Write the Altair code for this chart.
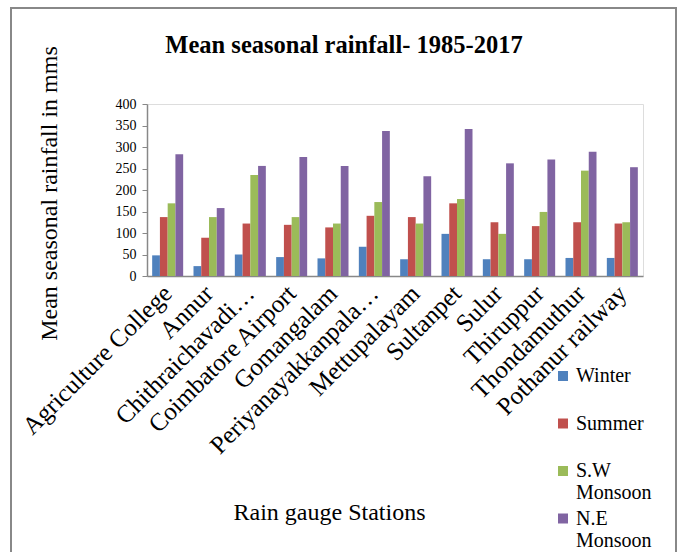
import altair as alt
import pandas as pd

stations = ["Agriculture College", "Annur", "Chithraichavadi…", "Coimbatore Airport",
            "Gomangalam", "Periyanayakkanpala…", "Mettupalayam", "Sultanpet", "Sulur",
            "Thiruppur", "Thondamuthur", "Pothanur railway"]
series = ["Winter", "Summer", "S.W Monsoon", "N.E Monsoon"]
winter = [48, 23, 50, 44, 41, 68, 39, 98, 39, 39, 42, 42]
summer = [137, 89, 122, 119, 113, 140, 137, 169, 125, 116, 125, 122]
sw_monsoon = [169, 137, 235, 137, 122, 172, 122, 179, 98, 149, 245, 125]
ne_monsoon = [283, 158, 256, 277, 256, 337, 232, 342, 262, 271, 289, 253]
colors = ["#4F81BD", "#C0504D", "#9BBB59", "#8064A2"]

rows = []
for name, vals in zip(series, [winter, summer, sw_monsoon, ne_monsoon]):
    for st, v in zip(stations, vals):
        rows.append({"Station": st, "Season": name, "Rainfall": v})
df = pd.DataFrame(rows)

FONT = "Liberation Serif"

bars = alt.Chart(df).mark_bar().encode(
    x=alt.X("Station:N", sort=stations,
            scale=alt.Scale(paddingInner=0.25, paddingOuter=0.125),
            axis=alt.Axis(title="Rain gauge Stations", labelAngle=-45, labelAlign="right",
                          labelBaseline="middle", labelPadding=13, ticks=False,
                          labelFont=FONT, labelFontSize=25, labelColor="#000",
                          labelLimit=400,
                          titleFont=FONT, titleFontSize=24, titleFontWeight="normal",
                          titleColor="#000", titleX=182, titleY=236,
                          titleBaseline="middle", titleAlign="center",
                          domainColor="#888888", domainWidth=1.5)),
    xOffset=alt.XOffset("Season:N", sort=series, scale=alt.Scale(paddingInner=0.0)),
    y=alt.Y("Rainfall:Q", scale=alt.Scale(domain=[0, 400], nice=False),
            axis=alt.Axis(title="Mean seasonal rainfall in mms",
                          values=[0, 50, 100, 150, 200, 250, 300, 350, 400],
                          grid=False, tickSize=5, tickColor="#888888",
                          domainColor="#888888", domainWidth=1.5,
                          labelFont=FONT, labelFontSize=14, labelColor="#000",
                          labelPadding=6,
                          titleFont=FONT, titleFontSize=24, titleFontWeight="normal",
                          titleColor="#000", titleAngle=270, titleX=-98, titleY=89,
                          titleBaseline="middle", titleAlign="center")),
    color=alt.Color("Season:N", sort=series,
                    scale=alt.Scale(domain=series, range=colors),
                    legend=alt.Legend(title=None, orient="none", legendX=406, legendY=262,
                                      symbolType="square", symbolSize=100,
                                      symbolStrokeWidth=0,
                                      labelFont=FONT, labelFontSize=20, labelColor="#000",
                                      labelExpr="split(datum.label, ' ')",
                                      labelBaseline="middle", gridAlign="all",
                                      rowPadding=5.5, labelOffset=3)),
)

frame = alt.Chart(pd.DataFrame({"k": [0]})).mark_rect(
    filled=False, stroke="#888888", strokeWidth=2
).encode(x=alt.value(-136), x2=alt.value(529), y=alt.value(-96), y2=alt.value(470))

chart = alt.layer(bars, frame).properties(
    width=496, height=172,
    title=alt.TitleParams("Mean seasonal rainfall- 1985-2017", font=FONT, fontSize=24.5,
                          fontWeight="bold", color="#000", anchor="middle",
                          baseline="alphabetic", frame="group", dx=-51, offset=-70),
    autosize=alt.AutoSizeParams(type="none"),
    padding={"left": 147, "top": 104, "right": 40, "bottom": 276},
).configure_view(stroke=None).configure(background="white")

chart.save("out.html", embed_options={"renderer": "svg", "actions": False})
